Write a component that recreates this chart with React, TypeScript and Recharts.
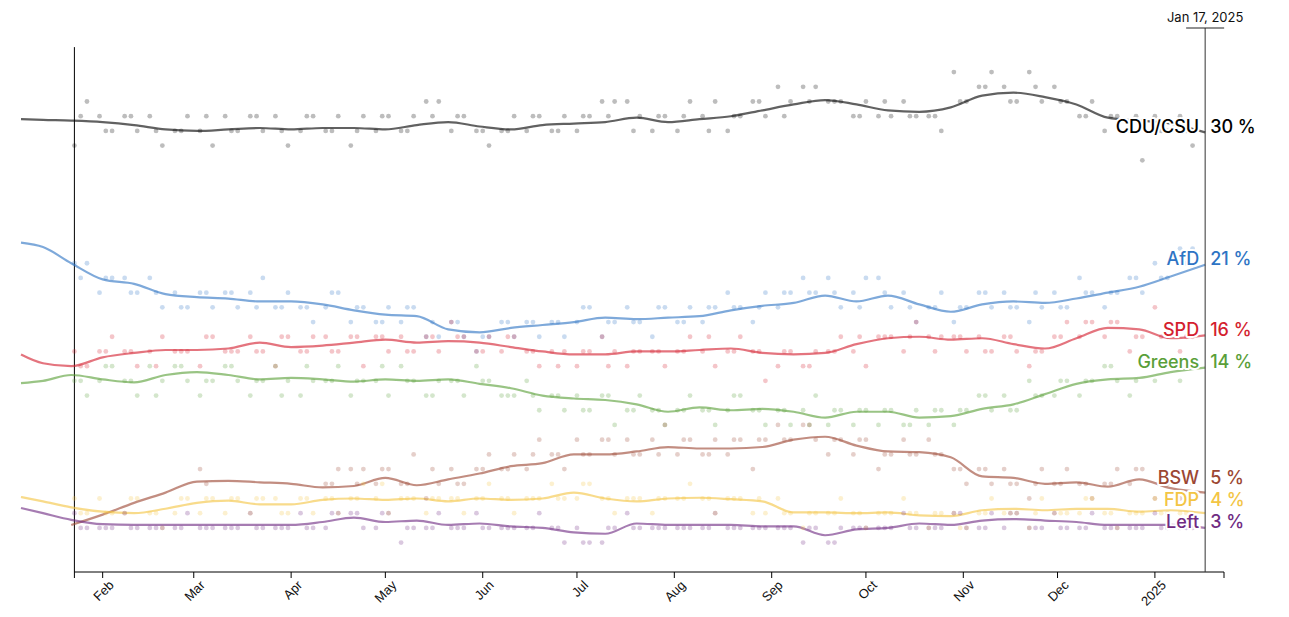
import React from 'react';
import { ComposedChart, Line, Scatter, XAxis, YAxis, ReferenceLine, ReferenceDot } from 'recharts';

// ---------- data ----------
const PARTIES = ['CDU/CSU', 'AfD', 'SPD', 'Greens', 'BSW', 'FDP', 'Left'];
const PARTY_COLORS = ['#000000', '#2e74c4', '#d41f2f', '#5a9f39', '#9c4733', '#f3c544', '#702b82'];

const DOMAIN_START = '2024-01-06';
const AXIS_START = '2024-01-23';
const AXIS_END = '2025-01-23';
const CURRENT_DATE = '2025-01-17';
const CURRENT_LABEL = 'Jan 17, 2025';

const X_TICK_DATES = ['2024-01-23', '2024-02-01', '2024-03-01', '2024-04-01', '2024-05-01', '2024-06-01', '2024-07-01', '2024-08-01', '2024-09-01', '2024-10-01', '2024-11-01', '2024-12-01', '2025-01-01', '2025-01-23'];
const X_TICK_LABELS = ['', 'Feb', 'Mar', 'Apr', 'May', 'Jun', 'Jul', 'Aug', 'Sep', 'Oct', 'Nov', 'Dec', '2025', ''];
const Y_TICKS = [0, 5, 10, 15, 20, 25, 30, 35];
const Y_AXIS_TOP = 35.7;
const Y_MAX = 37;

const TREND_DATES = ['2024-01-06', '2024-01-13', '2024-01-22', '2024-02-01', '2024-02-11', '2024-02-21', '2024-03-02', '2024-03-12', '2024-03-22', '2024-04-01', '2024-04-11', '2024-04-21', '2024-05-01', '2024-05-11', '2024-05-21', '2024-05-31', '2024-06-10', '2024-06-20', '2024-06-30', '2024-07-10', '2024-07-20', '2024-07-30', '2024-08-09', '2024-08-19', '2024-08-29', '2024-09-08', '2024-09-18', '2024-09-28', '2024-10-08', '2024-10-18', '2024-10-28', '2024-11-07', '2024-11-17', '2024-11-27', '2024-12-07', '2024-12-17', '2024-12-27', '2025-01-06', '2025-01-17'];

const CDU_TREND = [30.8, 30.75, 30.7, 30.6, 30.4, 30.1, 30.0, 30.1, 30.2, 30.1, 30.2, 30.2, 30.1, 30.4, 30.6, 30.3, 30.1, 30.4, 30.5, 30.6, 30.9, 30.6, 30.8, 31.0, 31.4, 31.8, 32.1, 31.8, 31.4, 31.3, 31.6, 32.4, 32.6, 32.3, 31.8, 30.9, 30.7, 30.5, 29.9];
const AFD_TREND = [22.4, 22.1, 21.0, 19.9, 19.6, 18.9, 18.7, 18.6, 18.4, 18.4, 18.2, 17.8, 17.5, 17.4, 16.5, 16.3, 16.6, 16.8, 17.0, 17.3, 17.2, 17.3, 17.4, 17.8, 18.1, 18.3, 18.8, 18.4, 18.8, 18.2, 17.7, 18.2, 18.4, 18.3, 18.6, 19.0, 19.4, 20.1, 20.9];
const SPD_TREND = [14.8, 14.2, 14.0, 14.6, 14.9, 15.1, 15.1, 15.2, 15.6, 15.3, 15.4, 15.6, 15.8, 15.6, 15.7, 15.6, 15.3, 15.0, 14.8, 14.8, 15.0, 15.0, 15.1, 15.2, 14.9, 14.8, 14.9, 15.5, 15.9, 16.0, 15.8, 15.9, 15.5, 15.2, 15.9, 16.6, 16.5, 15.9, 16.1];
const GREENS_TREND = [12.85, 13.0, 13.4, 13.1, 12.9, 13.4, 13.6, 13.4, 13.1, 13.2, 13.1, 12.95, 13.1, 13.0, 13.1, 12.8, 12.5, 12.0, 11.8, 11.7, 11.4, 10.9, 11.2, 11.0, 11.1, 10.9, 10.5, 10.9, 10.9, 10.5, 10.6, 11.1, 11.4, 12.1, 12.8, 13.1, 13.2, 13.6, 13.9];
const BSW_TREND = [null, null, 3.2, 3.9, 4.7, 5.4, 6.15, 6.2, 6.1, 6.0, 5.75, 5.85, 6.4, 5.9, 6.3, 6.7, 7.2, 7.4, 8.0, 8.0, 8.2, 8.5, 8.4, 8.4, 8.5, 9.0, 9.2, 8.6, 8.2, 8.15, 7.8, 6.5, 6.4, 6.0, 6.1, 5.8, 6.3, 5.7, 5.4];
const FDP_TREND = [5.1, 4.8, 4.4, 4.1, 4.0, 4.3, 4.7, 4.85, 4.6, 4.6, 4.9, 5.0, 4.9, 5.0, 4.8, 5.0, 4.9, 5.0, 5.4, 5.0, 4.8, 5.0, 5.05, 4.95, 4.8, 4.05, 4.05, 4.0, 4.05, 3.85, 3.8, 4.2, 4.3, 4.2, 4.3, 4.3, 4.1, 4.2, 4.0];
const LEFT_TREND = [4.35, 4.0, 3.55, 3.25, 3.2, 3.2, 3.2, 3.2, 3.2, 3.2, 3.4, 3.7, 3.4, 3.5, 3.2, 3.3, 3.1, 3.0, 2.7, 2.6, 3.3, 3.2, 3.2, 3.2, 3.1, 3.1, 2.5, 2.9, 3.0, 3.3, 3.2, 3.5, 3.6, 3.5, 3.4, 3.2, 3.2, 3.2, 3.0];

// polls, batch 1
const POLL_DATES = ['2024-01-23', '2024-01-27', '2024-01-31', '2024-02-04', '2024-02-08', '2024-02-12', '2024-02-16', '2024-02-20', '2024-02-24', '2024-02-28', '2024-03-03', '2024-03-07', '2024-03-11', '2024-03-15', '2024-03-19', '2024-03-23', '2024-03-27', '2024-03-31', '2024-04-04', '2024-04-08', '2024-04-12', '2024-04-16', '2024-04-20', '2024-04-24', '2024-04-28', '2024-05-02', '2024-05-06', '2024-05-10', '2024-05-14', '2024-05-18', '2024-05-22', '2024-05-26', '2024-05-30', '2024-06-03', '2024-06-07', '2024-06-11', '2024-06-15', '2024-06-19', '2024-06-23', '2024-06-27', '2024-07-01', '2024-07-05', '2024-07-09', '2024-07-13', '2024-07-17', '2024-07-21', '2024-07-25', '2024-07-29', '2024-08-02', '2024-08-06', '2024-08-10', '2024-08-14', '2024-08-18', '2024-08-22', '2024-08-26', '2024-08-30', '2024-09-03', '2024-09-07', '2024-09-11', '2024-09-15', '2024-09-19', '2024-09-23', '2024-09-27', '2024-10-01', '2024-10-05', '2024-10-09', '2024-10-13', '2024-10-17', '2024-10-21', '2024-10-25', '2024-10-29', '2024-11-02', '2024-11-06', '2024-11-10', '2024-11-14', '2024-11-18', '2024-11-22', '2024-11-26', '2024-11-30', '2024-12-04', '2024-12-08', '2024-12-12', '2024-12-16', '2024-12-20', '2024-12-24', '2024-12-28', '2025-01-01', '2025-01-05', '2025-01-09', '2025-01-13'];

const CDU_POLLS = [29, 32, 31, 30, 31, 30, 31, 29, 30, 31, 30, 29, 31, 30, 31, 30, 31, 29, 30, 31, 30, 31, 29, 31, 30, 31, 30, 31, 32, 32, 30, 31, 30, 29, 30, 31, 30, 31, 30, 31, 30, 31, 32, 32, 32, 31, 30, 31, 30, 32, 31, 32, 30, 31, 32, 31, 33, 32, 33, 33, 32, 32, 31, 32, 31, 31, 32, 31, 31, 30, 34, 32, 33, 34, 33, 32, 34, 32, 33, 32, 31, 32, 30, 31, 30, 28, 31, 30, 31, 29];
const AFD_POLLS = [21, 21, 19, 20, 20, 19, 20, 18, 19, 18, 19, 18, 19, 18, 19, 20, 18, 19, 18, 17, 18, 19, 17, 18, 17, 18, 17, 18, 16, 16, 17, 16, 15, 16, 17, 16, 17, 16, 17, 16, 17, 18, 16, 17, 18, 17, 16, 18, 17, 18, 17, 18, 19, 18, 17, 19, 18, 19, 20, 19, 20, 18, 19, 20, 20, 18, 19, 17, 18, 19, 17, 18, 19, 18, 19, 18, 17, 18, 19, 18, 20, 19, 18, 19, 20, 19, 21, 20, 22, 22];
const SPD_POLLS = [15, 14, 15, 16, 15, 14, 15, 16, 15, 15, 14, 16, 15, 15, 16, 15, 14, 16, 15, 16, 16, 15, 16, 14, 16, 15, 16, 15, 16, 15, 17, 16, 15, 16, 15, 16, 15, 14, 15, 15, 14, 15, 16, 15, 14, 15, 15, 14, 15, 16, 15, 14, 15, 16, 15, 13, 14, 15, 14, 15, 15, 16, 15, 14, 16, 16, 15, 17, 16, 16, 16, 15, 16, 15, 16, 15, 14, 15, 16, 17, 16, 17, 16, 17, 15, 16, 18, 16, 15, 16];
const GREENS_POLLS = [13, 12, 13, 14, 13, 12, 14, 13, 14, 13, 12, 13, 14, 13, 12, 13, 14, 13, 12, 13, 13, 14, 12, 13, 13, 12, 14, 13, 12, 13, 13, 12, 14, 13, 12, 12, 13, 11, 12, 11, 12, 11, 12, 10, 11, 12, 11, 10, 11, 12, 11, 10, 11, 12, 11, 10, 11, 10, 11, 12, 10, 11, 10, 11, 10, 11, 10, 11, 10, 11, 10, 11, 12, 11, 12, 11, 13, 12, 12, 13, 12, 13, 14, 13, 12, 14, 13, 14, 13, 14];
const BSW_POLLS = [null, null, null, null, null, null, null, null, null, null, 7, null, null, null, null, null, null, null, null, null, 6, 7, 7, 7, 6, 7, 6, 8, 5, 6, 7, 6, 7, 8, 7, 8, 7, 9, 8, 7, 9, 8, 9, 8, 9, 8, 9, 10, 8, 9, 8, 9, 8, 9, 7, 9, 10, 9, 10, 9, 8, 9, 8, 9, 7, 8, 9, 8, 9, 8, 7, 6, 7, 6, 7, 6, 5, 7, 6, 7, 6, 5, 6, 7, 6, 7, 5, 6, 5, 6];
const FDP_POLLS = [5, 4, 5, 4, 4, 5, 4, 3, 4, 5, 4, 5, 4, 5, 4, 5, 5, 4, 5, 4, 5, 4, 5, 6, 5, 4, 5, 5, 4, 5, 5, 4, 5, 6, 5, 4, 5, 5, 6, 5, 5, 6, 5, 4, 5, 5, 4, 5, 5, 6, 5, 4, 5, 5, 4, 4, 5, 4, 3, 4, 4, 5, 4, 3, 4, 4, 5, 4, 3, 4, 4, 3, 4, 5, 4, 4, 3, 5, 4, 4, 4, 5, 4, 3, 4, 4, 5, 4, 4, 4];
const LEFT_POLLS = [4, 3, 3, 3, 4, 3, 3, 3, 3, 4, 3, 3, 3, 3, 4, 3, 3, 3, 4, 3, 3, 4, 4, 3, 3, 4, 2, 3, 3, 4, 3, 3, 4, 3, 3, 3, 3, 4, 3, 2, 3, 2, 2, 3, 4, 3, 3, 3, 3, 3, 3, 4, 3, 3, 3, 3, 3, 3, 2, 3, 2, 3, 3, 3, 3, 3, 4, 3, 3, 3, 4, 3, 3, 4, 3, 4, 3, 3, 4, 3, 3, 4, 3, 3, 3, 3, 4, 3, 3, 3];

// polls, batch 2
const POLL_DATES_2 = ['2024-01-25', '2024-02-02', '2024-02-10', '2024-02-18', '2024-02-26', '2024-03-05', '2024-03-13', '2024-03-21', '2024-03-29', '2024-04-06', '2024-04-14', '2024-04-22', '2024-04-30', '2024-05-08', '2024-05-16', '2024-05-24', '2024-06-01', '2024-06-09', '2024-06-17', '2024-06-25', '2024-07-03', '2024-07-11', '2024-07-19', '2024-07-27', '2024-08-04', '2024-08-12', '2024-08-20', '2024-08-28', '2024-09-05', '2024-09-13', '2024-09-21', '2024-09-29', '2024-10-07', '2024-10-15', '2024-10-23', '2024-10-31', '2024-11-08', '2024-11-16', '2024-11-24', '2024-12-02', '2024-12-10', '2024-12-18', '2024-12-26', '2025-01-03', '2025-01-11'];
const CDU_POLLS_2 = [31, 30, 31, 30, 30, 31, 30, 31, 30, 31, 30, 30, 31, 30, 31, 31, 30, 30, 31, 30, 31, 31, 30, 31, 31, 30, 31, 32, 31, 32, 32, 31, 32, 31, 31, 32, 33, 32, 33, 32, 31, 31, 31, 30, 30];
const AFD_POLLS_2 = [20, 20, 19, 19, 18, 19, 19, 18, 18, 18, 19, 18, 17, 18, 17, 17, 16, 17, 17, 17, 18, 17, 17, 18, 17, 18, 18, 18, 19, 19, 19, 18, 19, 18, 18, 18, 19, 18, 19, 18, 19, 19, 20, 20, 21];
const SPD_POLLS_2 = [14, 15, 15, 14, 15, 16, 15, 15, 16, 15, 15, 16, 16, 15, 16, 16, 15, 16, 15, 14, 15, 14, 15, 15, 15, 16, 15, 15, 15, 14, 15, 16, 16, 16, 15, 16, 15, 16, 15, 16, 17, 17, 16, 16, 16];
const GREENS_POLLS_2 = [13, 14, 13, 12, 14, 13, 14, 13, 12, 14, 13, 13, 14, 13, 12, 13, 13, 12, 12, 12, 11, 12, 11, 11, 11, 11, 12, 11, 11, 10, 11, 11, 11, 10, 11, 11, 12, 11, 12, 13, 13, 14, 13, 14, 14];
const BSW_POLLS_2 = [null, null, null, null, null, 6, null, null, null, null, 6, 6, 7, 6, 7, 6, 7, 7, 8, 8, 8, 9, 8, 8, 9, 8, 9, 9, 9, 10, 9, 9, 8, 8, 8, 7, 7, 6, 6, 6, 6, 6, 7, 6, 5];
const FDP_POLLS_2 = [4, 4, 5, 4, 5, 5, 5, 5, 4, 5, 5, 5, 6, 5, 5, 5, 5, 5, 5, 5, 6, 5, 5, 5, 5, 5, 5, 5, 4, 4, 4, 4, 4, 4, 4, 3, 4, 4, 4, 4, 5, 4, 4, 4, 4];
const LEFT_POLLS_2 = [3, 3, 3, 3, 3, 3, 3, 3, 3, 3, 4, 4, 4, 3, 3, 3, 3, 3, 3, 3, 2, 3, 3, 3, 3, 3, 3, 3, 3, 3, 2, 3, 3, 3, 3, 4, 3, 4, 3, 3, 3, 3, 3, 3, 3];

const TRENDS = [CDU_TREND, AFD_TREND, SPD_TREND, GREENS_TREND, BSW_TREND, FDP_TREND, LEFT_TREND];
const POLLS = [CDU_POLLS, AFD_POLLS, SPD_POLLS, GREENS_POLLS, BSW_POLLS, FDP_POLLS, LEFT_POLLS];
const POLLS_2 = [CDU_POLLS_2, AFD_POLLS_2, SPD_POLLS_2, GREENS_POLLS_2, BSW_POLLS_2, FDP_POLLS_2, LEFT_POLLS_2];

// ---------- layout ----------
const W = 1273;
const H = 601;
const MARGIN = { top: 20, right: 57, bottom: 7, left: 13 };
const X_AXIS_H = 30;
const PLOT_W = W - MARGIN.left - MARGIN.right;
const FONT = 'Liberation Sans, Arial, Helvetica, sans-serif';
const LABEL_FONT = 'Inter, Liberation Sans, Arial, sans-serif';

const t = (s: string) => Date.parse(s + 'T00:00:00Z');
const T0 = t(DOMAIN_START);
const T1 = t(AXIS_END);
const AXIS_X = MARGIN.left + ((t(AXIS_START) - T0) / (T1 - T0)) * PLOT_W;

const trendData = TRENDS.map((arr) => TREND_DATES.map((d, i) => ({ t: t(d), v: arr[i] })));
const toPoints = (dates: string[], arr: (number | null)[]) =>
  dates.map((d, i) => ({ t: t(d), v: arr[i] })).filter((p) => p.v !== null && p.v !== undefined);
const pollData = POLLS.map((arr, i) => [...toPoints(POLL_DATES, arr), ...toPoints(POLL_DATES_2, POLLS_2[i])]);

// label dodge (keeps labels from overlapping, working upward from the lowest)
const LABEL_LIFT = 0.4;
const LABEL_GAP = 1.5;
const lastVals = TRENDS.map((arr) => arr[arr.length - 1] as number);
const labelPos: number[] = new Array(PARTIES.length).fill(0);
{
  const order = lastVals.map((v, i) => i).sort((a, b) => lastVals[a] - lastVals[b]);
  let prev = -Infinity;
  order.forEach((i) => {
    const p = Math.max(lastVals[i] + LABEL_LIFT, prev + LABEL_GAP);
    labelPos[i] = p;
    prev = p;
  });
}

const YTick = (props: any) => {
  const { y, payload } = props;
  const v = payload.value;
  return (
    <g>
      <line x1={AXIS_X - 6} x2={AXIS_X} y1={y} y2={y} stroke="#000" strokeWidth={1} />
      {v !== Y_AXIS_TOP && (
        <text x={AXIS_X - 9} y={y} dy="0.35em" textAnchor="end" fontSize={12} fontFamily={FONT} fill="#111">
          {v} %
        </text>
      )}
    </g>
  );
};

const XTick = (props: any) => {
  const { x, y, payload } = props;
  const idx = X_TICK_DATES.findIndex((d) => t(d) === payload.value);
  const label = idx >= 0 ? X_TICK_LABELS[idx] : '';
  if (!label) return <g />;
  const ax = x + 12;
  const ay = y + 6;
  return (
    <text x={ax} y={ay} textAnchor="end" style={{ fontSize: 13, fontFamily: FONT }} fill="#111" transform={`rotate(-45 ${ax} ${ay})`}>
      {label}
    </text>
  );
};

const makeDot = (color: string) => (props: any) => {
  const { cx, cy } = props;
  if (cx == null || cy == null) return <g />;
  return <circle cx={cx} cy={cy} r={2.4} fill={color} fillOpacity={0.26} />;
};

const makePartyLabel = (name: string, value: number, color: string) => (props: any) => {
  const vb = props.viewBox || {};
  const x = vb.x + (vb.width || 0) / 2;
  const y = vb.y + (vb.height || 0) / 2;
  return (
    <g fontFamily={LABEL_FONT} fontSize={18} fontWeight={500} fill={color} stroke="#fff" strokeWidth={4} strokeLinejoin="round" style={{ paintOrder: 'stroke' }}>
      <text x={x - 6} y={y} dy="0.35em" textAnchor="end">{name}</text>
      <text x={x + 5} y={y} dy="0.35em" textAnchor="start">{Math.round(value)} %</text>
    </g>
  );
};

const currentLabel = (props: any) => {
  const vb = props.viewBox || {};
  const x = vb.x;
  const y = vb.y;
  return (
    <g>
      <line x1={x - 19} x2={x + 19} y1={y} y2={y} stroke="#222" strokeWidth={1} />
      <text x={x} y={y - 6} textAnchor="middle" fontSize={13} fontFamily={LABEL_FONT} fill="#111">{CURRENT_LABEL}</text>
    </g>
  );
};

export default function App() {
  return (
    <div style={{ width: W, height: H }}>
      <ComposedChart width={W} height={H} margin={MARGIN}>
        <XAxis
          dataKey="t"
          type="number"
          domain={[T0, T1]}
          ticks={X_TICK_DATES.map(t)}
          interval={0}
          height={X_AXIS_H}
          axisLine={false}
          tickLine={{ stroke: '#000' }}
          tickSize={6}
          tick={<XTick />}
        />
        <YAxis
          type="number"
          domain={[0, Y_MAX]}
          ticks={[...Y_TICKS, Y_AXIS_TOP]}
          interval={0}
          width={0}
          axisLine={false}
          tickLine={false}
          tick={<YTick />}
        />
        <ReferenceLine segment={[{ x: t(AXIS_START), y: 0 }, { x: t(AXIS_START), y: Y_AXIS_TOP }]} stroke="#000" strokeWidth={1} ifOverflow="visible" />
        <ReferenceLine segment={[{ x: t(AXIS_START), y: 0 }, { x: T1, y: 0 }]} stroke="#000" strokeWidth={1} ifOverflow="visible" />
        {PARTIES.map((p, i) => (
          <Scatter key={'s' + p} data={pollData[i]} dataKey="v" shape={makeDot(PARTY_COLORS[i])} isAnimationActive={false} />
        ))}
        {PARTIES.map((p, i) => (
          <Line
            key={'l' + p}
            data={trendData[i]}
            dataKey="v"
            type="monotone"
            stroke={PARTY_COLORS[i]}
            strokeOpacity={0.62}
            strokeWidth={2.2}
            dot={false}
            activeDot={false}
            isAnimationActive={false}
          />
        ))}
        <ReferenceLine x={t(CURRENT_DATE)} stroke="#333" strokeWidth={1} label={{ content: currentLabel }} ifOverflow="visible" />
        {PARTIES.map((p, i) => (
          <ReferenceDot
            key={'d' + p}
            x={t(CURRENT_DATE)}
            y={labelPos[i]}
            r={0}
            fill="none"
            stroke="none"
            ifOverflow="visible"
            label={{ content: makePartyLabel(p, lastVals[i], PARTY_COLORS[i]) }}
          />
        ))}
      </ComposedChart>
    </div>
  );
}
